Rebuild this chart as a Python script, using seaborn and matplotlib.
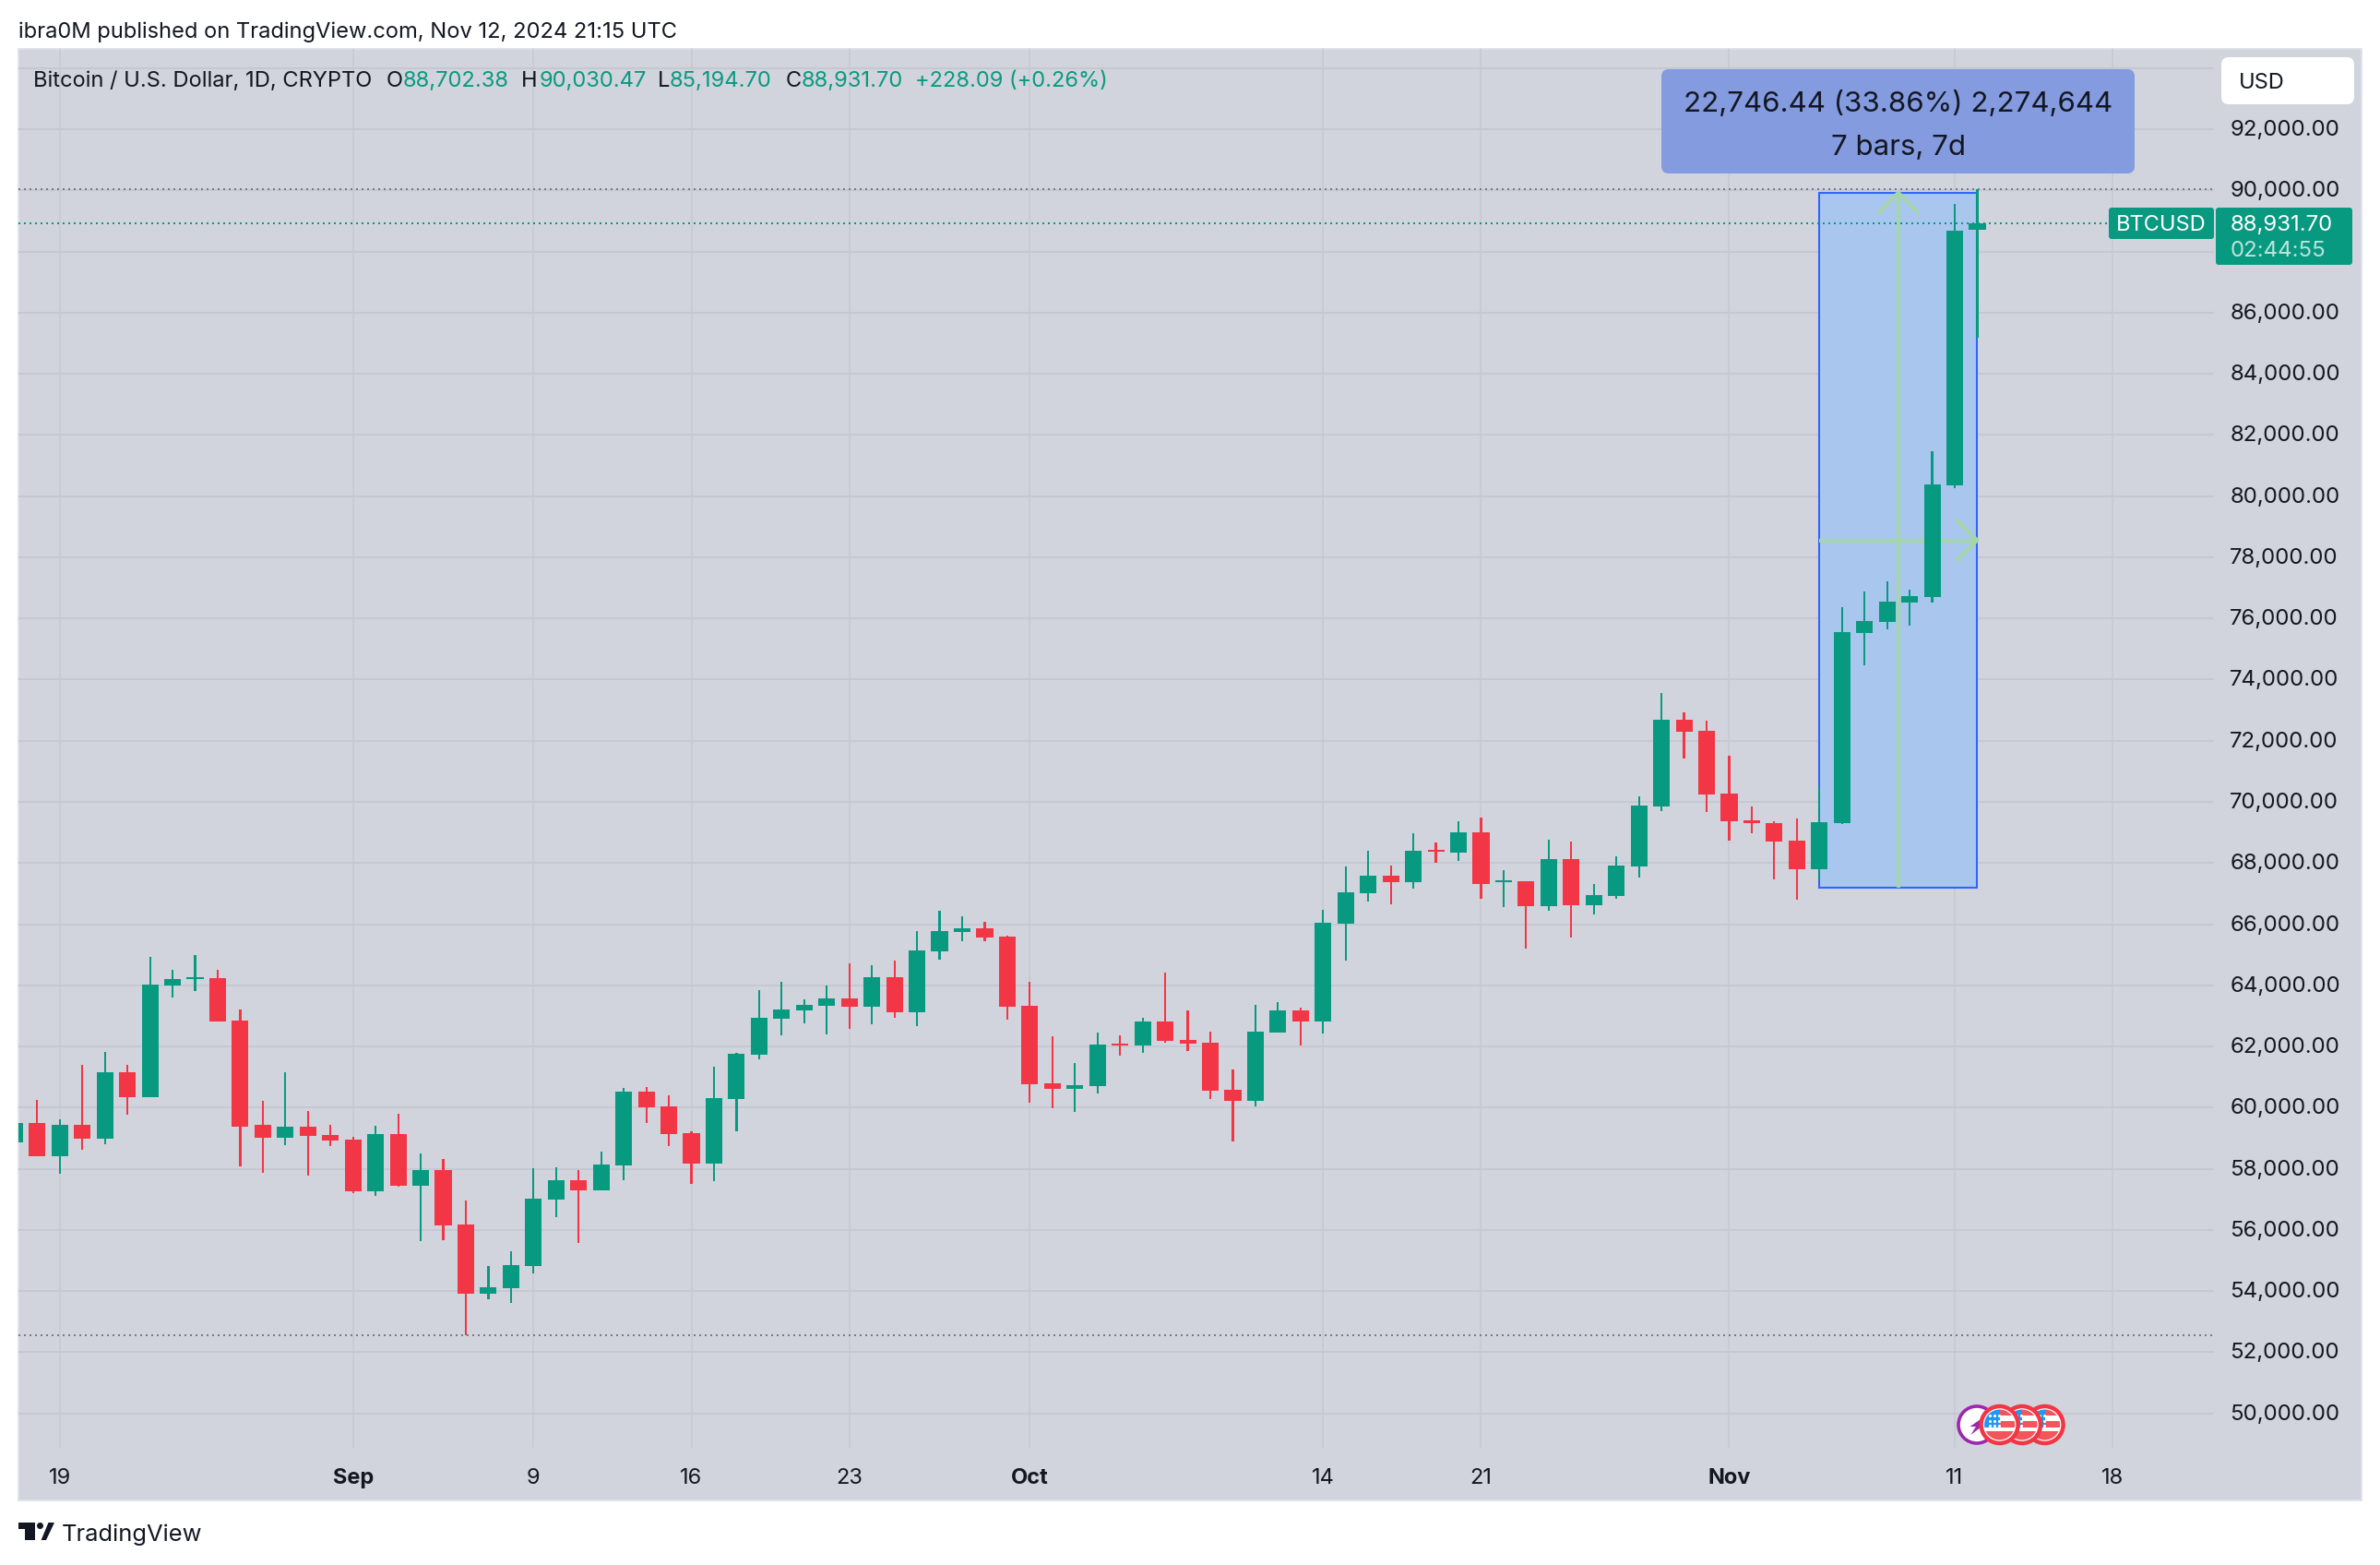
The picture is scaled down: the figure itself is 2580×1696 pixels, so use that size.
# BTCUSD daily candles with a date & price range box (TradingView style)

import numpy as np
import pandas as pd
import matplotlib.pyplot as plt
import seaborn as sns
from matplotlib.patches import Rectangle, FancyBboxPatch, Circle, Polygon
from matplotlib.transforms import ScaledTranslation

# ─── Data ───
dates = pd.date_range('2024-08-17', '2024-11-12', freq='D')

opens = [58870, 59503, 58421, 59441, 58993, 61165, 60349, 64001, 64215, 64246, 62848, 59441, 59023, 59380, 59115,
         58962, 57269, 59146, 57452, 57962, 56188, 53923, 54107, 54831, 57004, 57636, 57303, 58121, 60515, 60030,
         59152, 58182, 60273, 61730, 62909, 63180, 63331, 63573, 63301, 64268, 63120, 65114, 65748, 65869, 65597,
         63331, 60794, 60613, 60703, 62093, 62032, 62818, 62214, 62117, 60577, 60214, 62450, 63175, 62812, 66014,
         67011, 67585, 67374, 68431, 68341, 69005, 67374, 67404, 66588, 68129, 66619, 66921, 67888, 69851, 72691,
         72328, 70274, 69398, 69307, 68733, 67797, 69296, 75519, 75881, 76516, 76697, 80352, 88702.38]
highs = [59850, 60257, 59625, 61400, 61828, 61400, 64939, 64511, 65000, 64511, 63215, 60227, 61165, 59900, 59441,
         59054, 59411, 59809, 58503, 58330, 56973, 54831, 55310, 58024, 58054, 57962, 58546, 60636, 60667, 60394,
         59212, 61333, 61791, 63845, 64117, 63543, 63996, 64721, 64661, 64812, 65778, 66443, 66262, 66081, 65627,
         64117, 62335, 61458, 62455, 62365, 62939, 64419, 63180, 62480, 61241, 63356, 63447, 63265, 66468, 67888,
         68401, 67918, 68975, 68673, 69368, 69489, 67767, 67404, 68764, 68703, 67314, 68220, 70183, 73567, 72933,
         72661, 71513, 69851, 69368, 69458, 70484, 76365, 76878, 77211, 76939, 81467, 89555, 90030.47]
lows = [58800, 58421, 57840, 58625, 58809, 59778, 60349, 63603, 63817, 62828, 58085, 57871, 58778, 57779, 58748,
        57208, 57116, 57422, 55637, 55667, 52567, 53740, 53617, 54586, 56422, 55576, 57303, 57637, 59485, 58727,
        57515, 57606, 59212, 61579, 62365, 62757, 62395, 62576, 62727, 62939, 62667, 64842, 65446, 65446, 62878,
        60159, 59978, 59857, 60461, 61700, 61791, 62123, 61851, 60275, 58885, 60033, 62450, 62027, 62419, 64806,
        66740, 66649, 67162, 68008, 68069, 66830, 66558, 65199, 66437, 65561, 66317, 66830, 67525, 69700, 71422,
        69670, 68733, 68975, 67465, 66800, 67423, 69266, 74461, 75640, 75761, 76516, 80262, 85194.70]
closes = [59503, 58421, 59441, 58993, 61165, 60349, 64031, 64215, 64276, 62828, 59380, 59023, 59380, 59084, 58931,
          57269, 59146, 57452, 57962, 56157, 53923, 54127, 54851, 57024, 57636, 57299, 58152, 60515, 60000, 59121,
          58182, 60303, 61761, 62939, 63211, 63362, 63573, 63301, 64268, 63120, 65144, 65778, 65869, 65567, 63301,
          60764, 60613, 60733, 62063, 62032, 62818, 62183, 62093, 60546, 60214, 62480, 63175, 62812, 66045, 67042,
          67585, 67374, 68401, 68371, 69005, 67314, 67434, 66588, 68129, 66619, 66951, 67918, 69881, 72691, 72298,
          70244, 69368, 69307, 68703, 67797, 69338, 75549, 75912, 76546, 76727, 80383, 88680, 88931.70]

range_start = '2024-11-05'
range_end = '2024-11-12'
range_low = 67181
range_high = 89927.44
high_level = 90030.47
low_level = 52550
last_close = 88931.70

price_ticks = list(range(50000, 94001, 2000))
hidden_price_ticks = [88000, 94000]
date_ticks = ['2024-08-19', '2024-09-01', '2024-09-09', '2024-09-16', '2024-09-23', '2024-10-01',
              '2024-10-14', '2024-10-21', '2024-11-01', '2024-11-11', '2024-11-18']
date_labels = ['19', 'Sep', '9', '16', '23', 'Oct', '14', '21', 'Nov', '11', '18']
bold_labels = ['Sep', 'Oct', 'Nov']

# ─── Colours ───
BG = '#d1d4dc'
GRID_H = '#c5c8d2'
GRID_V = '#c8cbd4'
UP = '#089981'
DOWN = '#f23645'
INK = '#131722'
BLUE = '#2962ff'
ARROW = '#a5d6a9'

# ─── Figure (pixel sizes at dpi 100) ───
W, H = 2580, 1696
sns.set_theme(style='white')
plt.rcParams['font.family'] = ['Inter', 'DejaVu Sans']
fig = plt.figure(figsize=(W / 100, H / 100), dpi=100, facecolor='white')
fig.add_artist(Rectangle((20 / W, 1 - 1626 / H), 2540 / W, 1573 / H, transform=fig.transFigure,
                         fc=BG, ec='#e0e3eb', lw=1.4, zorder=-1))

ax = fig.add_axes([20 / W, 1 - 1569 / H, 2380 / W, 1516 / H], zorder=1)
ax.patch.set_visible(False)
for s in ax.spines.values():
    s.set_visible(False)

df = pd.DataFrame({'date': dates, 'open': opens, 'high': highs, 'low': lows, 'close': closes})
day0 = pd.Timestamp('2024-08-19')
df['day'] = (df['date'] - day0).dt.days
df['up'] = df['close'] >= df['open']
df['body_low'] = df[['open', 'close']].min(axis=1)
df['body'] = (df['close'] - df['open']).abs()
df['wick'] = df['high'] - df['low']


def to_day(d):
    return (pd.Timestamp(d) - day0).days


# ─── Range box sits under the candles ───
x0, x1 = to_day(range_start), to_day(range_end)
ax.add_patch(Rectangle((x0, range_low), x1 - x0, range_high - range_low, fc='#a8c6ef', ec=BLUE,
                       lw=1.5, alpha=0.96, zorder=1.5))
xm = (x0 + x1) / 2
ym = (range_low + range_high) / 2
ax.plot([xm, xm], [range_low, range_high], color=ARROW, lw=2.9, zorder=1.7, solid_capstyle='butt')
ax.plot([xm - 0.875, xm, xm + 0.875], [range_high - 664, range_high, range_high - 664],
        color=ARROW, lw=2.9, zorder=1.7)
ax.plot([x0, x1], [ym, ym], color=ARROW, lw=2.9, zorder=1.7, solid_capstyle='butt')
ax.plot([x1 - 0.886, x1, x1 - 0.886], [ym + 634, ym, ym - 634], color=ARROW, lw=2.9, zorder=1.7)

# ─── Candles ───
for is_up, color in [(True, UP), (False, DOWN)]:
    part = df[df['up'] == is_up]
    sns.barplot(data=part, x='day', y='wick', bottom=part['low'].values, native_scale=True, color=color,
                saturation=1, width=0.09, errorbar=None, linewidth=0, ax=ax, zorder=3)
    sns.barplot(data=part, x='day', y='body', bottom=part['body_low'].values, native_scale=True, color=color,
                saturation=1, width=0.74, errorbar=None, linewidth=0, ax=ax, zorder=3)

# ─── Level lines ───
dots = (0, (1, 2))
ax.axhline(high_level, color='#787b86', lw=1.44, ls=dots, zorder=2)
ax.axhline(low_level, color='#787b86', lw=1.44, ls=dots, zorder=2)
ax.axhline(last_close, color=UP, lw=1.44, ls=dots, zorder=2)

# ─── Axes ───
ax.set_xlim((20 - 64.8) / 24.455, (2400 - 64.8) / 24.455)
ax.set_ylim(48873, 94626)
ax.set_xlabel('')
ax.set_ylabel('')
ax.yaxis.tick_right()
ax.set_yticks(price_ticks)
ax.set_yticklabels(['' if p in hidden_price_ticks else f'{p:,.2f}' for p in price_ticks])
ax.set_xticks([to_day(d) for d in date_ticks])
ax.set_xticklabels(date_labels)
ax.tick_params(axis='y', length=0, pad=12.5, labelsize=17.3, labelcolor=INK)
ax.tick_params(axis='x', length=0, pad=16, labelsize=17, labelcolor=INK)
for lab in ax.get_xticklabels():
    if lab.get_text() in bold_labels:
        lab.set_fontweight('bold')
shift_up = ScaledTranslation(0, 1.5 / 100, fig.dpi_scale_trans)
for lab in ax.get_yticklabels():
    lab.set_transform(lab.get_transform() + shift_up)
ax.set_axisbelow(True)
ax.grid(axis='y', color=GRID_H, lw=1.44)
ax.grid(axis='x', color=GRID_V, lw=1.44)

# ─── Chrome in pixel coordinates ───
ov = fig.add_axes([0, 0, 1, 1], zorder=5)
ov.set_xlim(0, W)
ov.set_ylim(H, 0)
ov.axis('off')


def label(x, y, s, size=17, color=INK, ha='left', **kw):
    ov.text(x, y, s, fontsize=size, color=color, ha=ha, va='center_baseline', **kw)


def box(x, y, w, h, color, r=5, alpha=1.0, zorder=2):
    ov.add_patch(FancyBboxPatch((x, y), w, h, boxstyle=f'round,pad=0,rounding_size={r}', fc=color,
                                ec='none', alpha=alpha, zorder=zorder))


label(20, 32, 'ibra0M published on TradingView.com, Nov 12, 2024 21:15 UTC', size=17.06)

label(36, 85.5, 'Bitcoin / U.S. Dollar, 1D, CRYPTO', size=17.05)
ohlc = [(419, 'O', 437, '88,702.38'), (565, 'H', 585, '90,030.47'), (713, 'L', 726, '85,194.70'), (852, 'C', 869, '88,931.70')]
for xk, k, xv, v in ohlc:
    label(xk, 85.5, k, size=17)
    label(xv, 85.5, v, size=17.1, color=UP)
label(992, 85.5, '+228.09 (+0.26%)', size=17, color=UP)

# measure label
box(1801, 75, 513, 113, '#7e97e1', r=8, alpha=0.92)
label(2058, 109, '22,746.44 (33.86%) 2,274,644', size=22.5, ha='center', zorder=3)
label(2058, 157, '7 bars, 7d', size=22.5, ha='center', zorder=3)

# currency button
box(2408, 62, 144, 51, 'white', r=8)
label(2427, 87, 'USD', size=17)

# price tags
box(2286, 225, 114, 34, UP, r=3)
box(2402, 225, 148, 62, UP, r=3)
label(2294, 241, 'BTCUSD', size=17, color='white', zorder=3)
label(2418, 241, '88,931.70', size=17.3, color='white', zorder=3)
label(2418, 269, '02:44:55', size=17.3, color='#bfe3dc', zorder=3)

# event icons
CY = 1544
ov.add_patch(Circle((2143, CY), 20, fc='white', ec='#9c27b0', lw=2.6, zorder=3))
ov.add_patch(Polygon([(2147, 1538), (2135.5, 1546), (2142, 1546), (2136.3, 1555), (2147, 1547)],
                     fc='#9c27b0', ec='none', zorder=3.1))
flag_x = [2216.6, 2192, 2167.6]
for i, cx in enumerate(flag_x):
    z = 4 + i
    ov.add_patch(Circle((cx, CY), 20, fc='white', ec=DOWN, lw=3.2, zorder=z))
    clip = Circle((cx, CY), 16.5, transform=ov.transData)
    parts = [Rectangle((cx - 18, CY - 17), 18, 20, fc='#2196f3', ec='none', zorder=z + 0.2),
             Rectangle((cx, CY - 17), 18, 7, fc='#f2565b', ec='none', zorder=z + 0.1),
             Rectangle((cx, CY - 4), 18, 7, fc='#f2565b', ec='none', zorder=z + 0.1),
             Rectangle((cx - 18, CY + 7), 36, 11, fc='#f2565b', ec='none', zorder=z + 0.1)]
    for p in parts:
        ov.add_patch(p)
        p.set_clip_path(clip)
    for sx in (-11, -6, -1):
        for sy in (-10, -4, 1):
            ov.scatter(cx + sx, CY + sy, s=5, color='white', linewidths=0, zorder=z + 0.3)

# logo
ov.add_patch(Polygon([(20, 1650), (38, 1650), (38, 1669), (27, 1669), (27, 1656.5), (20, 1656.5)], fc=INK, ec='none'))
ov.add_patch(Circle((43.5, 1653.5), 3.5, fc=INK, ec='none'))
ov.add_patch(Polygon([(52.5, 1650), (59, 1650), (50, 1669), (44.6, 1669)], fc=INK, ec='none'))
label(67, 1661, 'TradingView', size=18.4)

fig.savefig('out.png', dpi=100)
print("Saved: out.png")
